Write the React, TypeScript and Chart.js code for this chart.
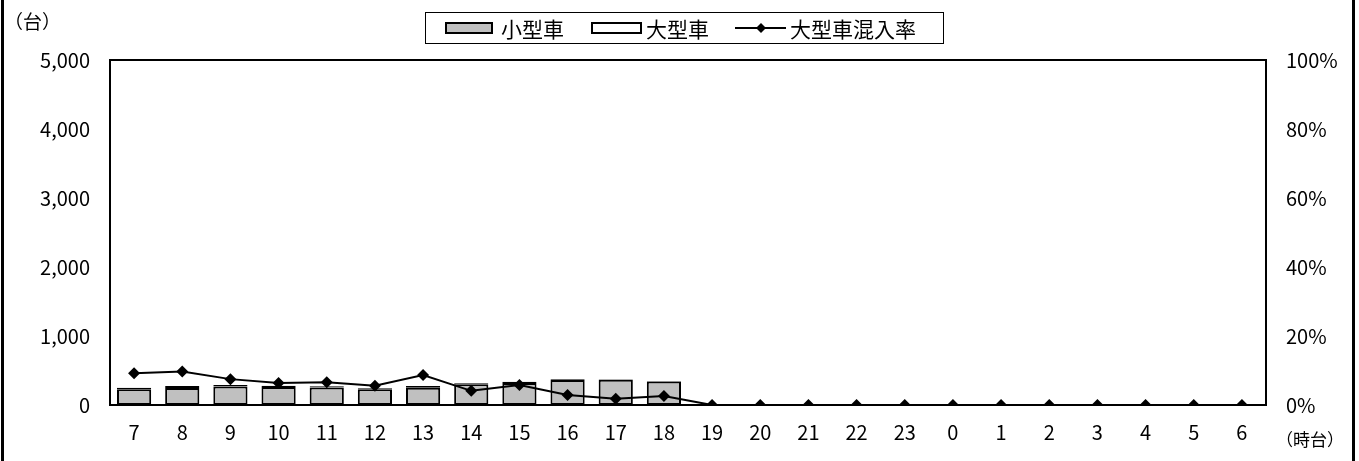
import React, { useEffect, useRef } from "react";
import { Chart, registerables } from "chart.js";

Chart.register(...registerables);

const hours = ["7", "8", "9", "10", "11", "12", "13", "14", "15", "16", "17", "18", "19", "20", "21", "22", "23", "0", "1", "2", "3", "4", "5", "6"];
const smallCars = [227, 248, 268, 262, 253, 228, 251, 301, 318, 361, 365, 339, 0, 0, 0, 0, 0, 0, 0, 0, 0, 0, 0, 0];
const largeCars = [23, 27, 22, 18, 18, 14, 24, 13, 20, 11, 7, 9, 0, 0, 0, 0, 0, 0, 0, 0, 0, 0, 0, 0];
const largeRate = [9.2, 9.7, 7.5, 6.4, 6.6, 5.6, 8.7, 4.1, 5.8, 2.9, 1.8, 2.6, 0, 0, 0, 0, 0, 0, 0, 0, 0, 0, 0, 0];
const countTicks = [0, 1000, 2000, 3000, 4000, 5000];
const rateTicks = [0, 20, 40, 60, 80, 100];
const legendLabels = ["小型車", "大型車", "大型車混入率"];
const yUnit = "（台）";
const xUnit = "（時台）";

const FONT = "'Noto Sans CJK JP', 'Noto Sans', sans-serif";
const W = 1359;
const H = 461;
const PLOT = { left: 110, right: 1266, top: 60, bottom: 405 };

const decor = {
  id: "decor",
  beforeDatasetsDraw(chart: any) {
    const { ctx, chartArea } = chart;
    ctx.save();
    ctx.strokeStyle = "#000";
    ctx.lineWidth = 2;
    ctx.strokeRect(chartArea.left, chartArea.top, chartArea.right - chartArea.left, chartArea.bottom - chartArea.top);
    ctx.restore();
  },
  afterDraw(chart: any) {
    const { ctx } = chart;
    ctx.save();
    ctx.fillStyle = "#000";
    ctx.textBaseline = "middle";
    ctx.textAlign = "left";
    ctx.font = `19px ${FONT}`;
    ctx.fillText(yUnit, 4, 22);
    ctx.font = `17px ${FONT}`;
    ctx.fillText(xUnit, 1276, 440);

    // legend
    ctx.lineWidth = 1;
    ctx.strokeStyle = "#000";
    ctx.strokeRect(425.5, 12.5, 518, 31);
    const cy = 28;
    ctx.lineWidth = 2;
    ctx.fillStyle = "#c0c0c0";
    ctx.fillRect(446, cy - 5, 46, 10);
    ctx.strokeRect(446, cy - 5, 46, 10);
    ctx.fillStyle = "#fff";
    ctx.fillRect(592, cy - 5, 49, 10);
    ctx.strokeRect(592, cy - 5, 49, 10);
    ctx.beginPath();
    ctx.moveTo(735, cy);
    ctx.lineTo(786, cy);
    ctx.stroke();
    ctx.fillStyle = "#000";
    ctx.beginPath();
    ctx.moveTo(761, cy - 5);
    ctx.lineTo(766, cy);
    ctx.lineTo(761, cy + 5);
    ctx.lineTo(756, cy);
    ctx.closePath();
    ctx.fill();
    ctx.font = `21px ${FONT}`;
    ctx.fillText(legendLabels[0], 501, cy + 1);
    ctx.fillText(legendLabels[1], 646, cy + 1);
    ctx.fillText(legendLabels[2], 790, cy + 1);
    ctx.restore();
  },
};

export default function App() {
  const ref = useRef<HTMLCanvasElement | null>(null);

  useEffect(() => {
    if (!ref.current) return;
    const chart = new Chart(ref.current, {
      type: "bar",
      data: {
        labels: hours,
        datasets: [
          {
            type: "line",
            label: legendLabels[2],
            data: largeRate,
            yAxisID: "y1",
            borderColor: "#000",
            borderWidth: 2,
            backgroundColor: "#000",
            pointStyle: "rectRot",
            pointRadius: 6,
            pointBorderWidth: 0,
            pointBackgroundColor: "#000",
            tension: 0,
            order: 0,
          } as any,
          {
            label: legendLabels[0],
            data: smallCars,
            yAxisID: "y",
            backgroundColor: "#c0c0c0",
            borderColor: "#000",
            borderWidth: 2,
            borderSkipped: false,
            stack: "s",
            order: 1,
          },
          {
            label: legendLabels[1],
            data: largeCars,
            yAxisID: "y",
            backgroundColor: "#fff",
            borderColor: "#000",
            borderWidth: 2,
            borderSkipped: false,
            stack: "s",
            order: 1,
          },
        ],
      },
      options: {
        animation: false,
        responsive: false,
        devicePixelRatio: 1,
        layout: { padding: { top: PLOT.top, left: 0, right: 0, bottom: 0 } },
        datasets: { bar: { barPercentage: 0.71, categoryPercentage: 1 } },
        plugins: { legend: { display: false }, tooltip: { enabled: false } },
        scales: {
          x: {
            stacked: true,
            grid: { display: false, drawTicks: false },
            border: { display: false },
            ticks: { color: "#000", font: { family: FONT, size: 20 }, padding: 15, maxRotation: 0, autoSkip: false },
            afterFit: (s: any) => { s.height = H - PLOT.bottom; },
          },
          y: {
            position: "left",
            stacked: true,
            min: 0,
            max: 5000,
            afterBuildTicks: (s: any) => { s.ticks = countTicks.map((v) => ({ value: v })); },
            grid: { display: false, drawTicks: false },
            border: { display: false },
            ticks: {
              color: "#000",
              font: { family: FONT, size: 20 },
              padding: 20,
              callback: (v: any) => Number(v).toLocaleString("en-US"),
            },
            afterFit: (s: any) => { s.width = PLOT.left; },
          },
          y1: {
            position: "right",
            min: 0,
            max: 100,
            afterBuildTicks: (s: any) => { s.ticks = rateTicks.map((v) => ({ value: v })); },
            grid: { display: false, drawTicks: false },
            border: { display: false },
            ticks: {
              color: "#000",
              font: { family: FONT, size: 20 },
              padding: 20,
              callback: (v: any) => `${v}%`,
            },
            afterFit: (s: any) => { s.width = W - PLOT.right; },
          },
        },
      },
      plugins: [decor],
    });
    return () => chart.destroy();
  }, []);

  return (
    <div style={{ position: "fixed", left: 0, top: 0, width: W, height: H, background: "#fff" }}>
      <canvas ref={ref} width={W} height={H} style={{ position: "absolute", left: 0, top: 0, width: W, height: H }} />
      <div style={{ position: "absolute", left: 1, top: 0, width: 3, height: H, background: "#000" }} />
      <div style={{ position: "absolute", left: 1352, top: 0, width: 3, height: H, background: "#000" }} />
    </div>
  );
}
